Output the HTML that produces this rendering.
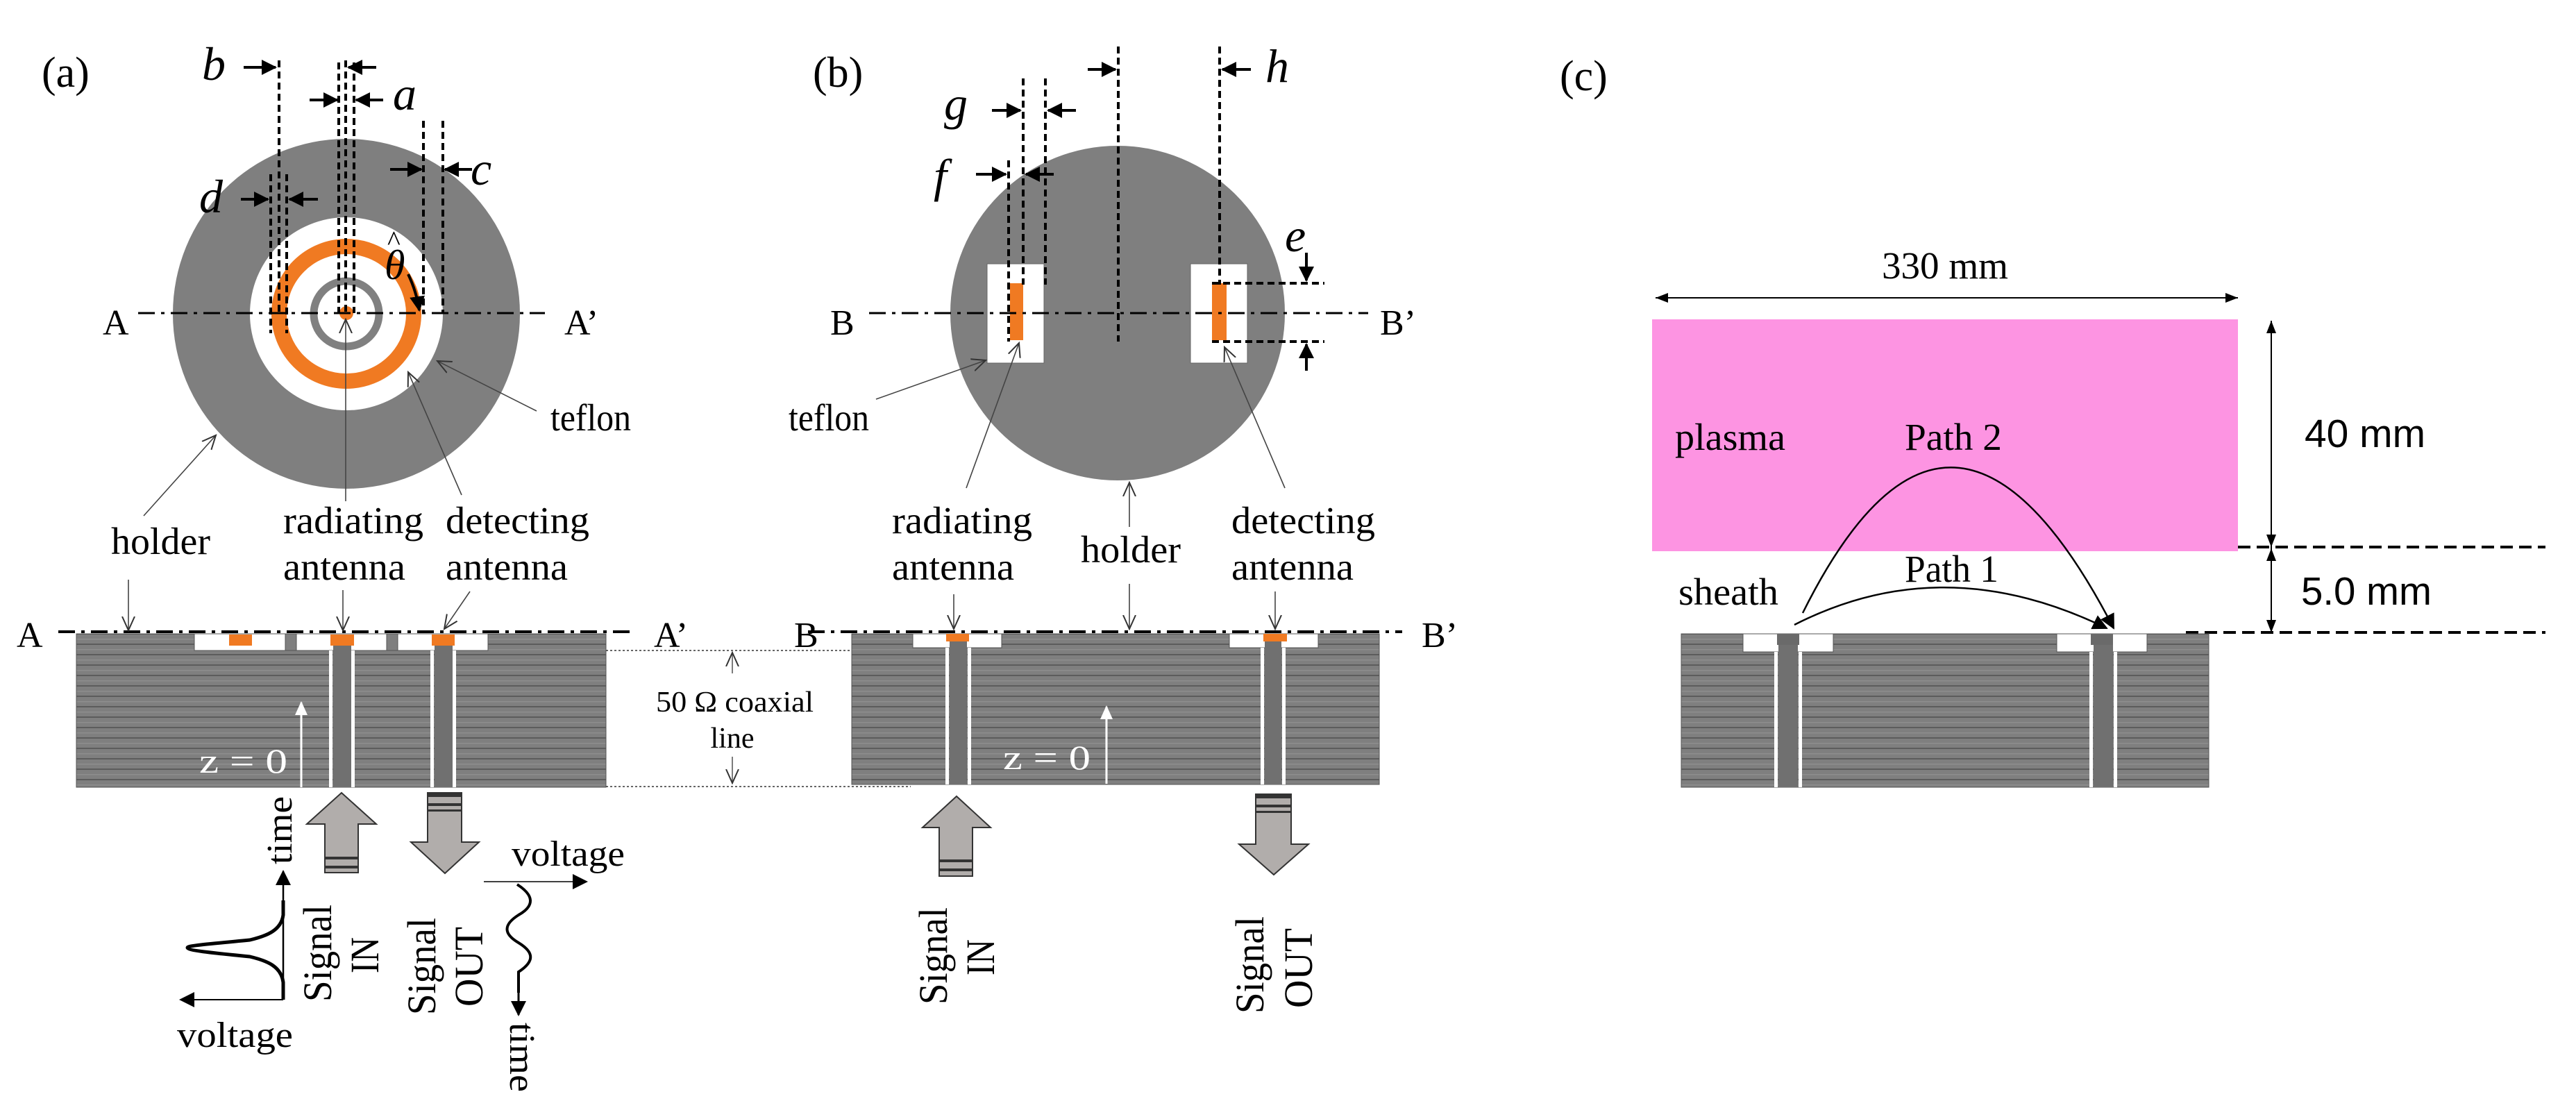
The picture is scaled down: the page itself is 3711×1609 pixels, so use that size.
<!DOCTYPE html>
<html><head><meta charset="utf-8"><style>html,body{margin:0;padding:0;background:#fff}svg{display:block}</style></head>
<body>
<svg xmlns="http://www.w3.org/2000/svg" width="3711" height="1609" viewBox="0 0 3711 1609" font-family="'Liberation Serif', serif">
<defs>
<pattern id="st" patternUnits="userSpaceOnUse" width="20" height="15">
<rect width="20" height="15" fill="#7f7f7f"/>
<rect y="12" width="20" height="2" fill="#5c5c5c"/>
<rect y="5" width="20" height="1.5" fill="#8e8e8e"/>
</pattern>
<marker id="ahb" markerWidth="22" markerHeight="22" refX="20" refY="11" orient="auto" markerUnits="userSpaceOnUse" viewBox="0 0 22 22"><path d="M0,0 L22,11 L0,22 z" fill="#000"/></marker>
<marker id="aho" markerWidth="22" markerHeight="22" refX="20" refY="11" orient="auto" markerUnits="userSpaceOnUse" viewBox="0 0 22 22"><path d="M0,2 L20,11 L0,20" fill="none" stroke="#333" stroke-width="2"/></marker>
<marker id="ahw" markerWidth="20" markerHeight="20" refX="18" refY="10" orient="auto" markerUnits="userSpaceOnUse" viewBox="0 0 20 20"><path d="M0,1 L20,10 L0,19 z" fill="#fff"/></marker>
</defs>

<!-- ===== PANEL (a) ===== -->
<text x="60" y="125" font-size="62">(a)</text>
<ellipse cx="499" cy="452" rx="250" ry="252" fill="#7f7f7f"/>
<circle cx="499" cy="452" r="139" fill="#fff"/>
<circle cx="499" cy="452" r="97" fill="none" stroke="#f07a22" stroke-width="22"/>
<circle cx="499" cy="452" r="47" fill="none" stroke="#808080" stroke-width="11"/>
<circle cx="499" cy="451" r="10" fill="#f07a22"/>
<line x1="199" y1="451" x2="785" y2="451" stroke="#000" stroke-width="3" stroke-dasharray="24 9 5 9"/>
<text x="148" y="482" font-size="52">A</text>
<text x="813" y="482" font-size="52">A’</text>
<g stroke="#000" stroke-width="4" stroke-dasharray="10 6" fill="none">
<line x1="402" y1="87" x2="402" y2="451"/>
<line x1="390" y1="251" x2="390" y2="480"/>
<line x1="413" y1="251" x2="413" y2="480"/>
<line x1="488" y1="90" x2="488" y2="451"/>
<line x1="498" y1="87" x2="498" y2="451"/>
<line x1="510" y1="90" x2="510" y2="451"/>
<line x1="610" y1="174" x2="610" y2="451"/>
<line x1="638" y1="174" x2="638" y2="451"/>
</g>
<g stroke="#000" stroke-width="4">
<line x1="351" y1="97" x2="397" y2="97" marker-end="url(#ahb)"/>
<line x1="347" y1="287" x2="386" y2="287" marker-end="url(#ahb)"/>
<line x1="458" y1="287" x2="417" y2="287" marker-end="url(#ahb)"/>
<line x1="542" y1="97" x2="502" y2="97" marker-end="url(#ahb)"/>
<line x1="446" y1="144" x2="486" y2="144" marker-end="url(#ahb)"/>
<line x1="552" y1="144" x2="513" y2="144" marker-end="url(#ahb)"/>
<line x1="562" y1="244" x2="607" y2="244" marker-end="url(#ahb)"/>
<line x1="680" y1="244" x2="641" y2="244" marker-end="url(#ahb)"/>
</g>
<g font-style="italic" font-size="68">
<text x="291" y="115">b</text>
<text x="287" y="306">d</text>
<text x="566" y="158">a</text>
<text x="678" y="266">c</text>
<text x="554" y="402" font-size="60">θ</text>
</g>
<text x="558" y="360" font-size="40">^</text>
<path d="M588,395 Q600,420 604,447" fill="none" stroke="#000" stroke-width="4" marker-end="url(#ahb)"/>
<g stroke="#444" stroke-width="1.6" fill="none">
<line x1="773" y1="592" x2="630" y2="520" marker-end="url(#aho)"/>
<line x1="207" y1="743" x2="311" y2="627" marker-end="url(#aho)"/>
<line x1="498" y1="722" x2="498" y2="460" marker-end="url(#aho)"/>
<line x1="665" y1="713" x2="588" y2="536" marker-end="url(#aho)"/>
</g>
<g font-size="55">
<text x="793" y="620" textLength="116" lengthAdjust="spacingAndGlyphs">teflon</text>
<text x="160" y="798" textLength="143" lengthAdjust="spacingAndGlyphs">holder</text>
<text x="408" y="768" textLength="202" lengthAdjust="spacingAndGlyphs">radiating</text>
<text x="408" y="835" textLength="176" lengthAdjust="spacingAndGlyphs">antenna</text>
<text x="642" y="768" textLength="207" lengthAdjust="spacingAndGlyphs">detecting</text>
<text x="642" y="835" textLength="176" lengthAdjust="spacingAndGlyphs">antenna</text>
</g>
<!-- cross section a -->
<rect x="110" y="913" width="763" height="221" fill="url(#st)" stroke="#555" stroke-width="1"/>
<rect x="280" y="913" width="131" height="24" fill="#fff" stroke="#555" stroke-width="1"/>
<rect x="427" y="913" width="130" height="24" fill="#fff" stroke="#555" stroke-width="1"/>
<rect x="573" y="913" width="130" height="24" fill="#fff" stroke="#555" stroke-width="1"/>
<rect x="411" y="913" width="16" height="24" fill="#7f7f7f" stroke="#555" stroke-width="1"/>
<rect x="557" y="913" width="16" height="24" fill="#7f7f7f" stroke="#555" stroke-width="1"/>
<rect x="330" y="914" width="33" height="16" fill="#f07a22"/>
<rect x="476" y="914" width="34" height="16" fill="#f07a22"/>
<rect x="622" y="914" width="33" height="16" fill="#f07a22"/>
<g fill="#fff"><rect x="474" y="937" width="5" height="197"/><rect x="506" y="937" width="5" height="197"/><rect x="620" y="937" width="5" height="197"/><rect x="652" y="937" width="5" height="197"/></g>
<rect x="480" y="930" width="26" height="204" fill="#707070"/>
<rect x="626" y="930" width="26" height="204" fill="#707070"/>
<line x1="84" y1="910" x2="909" y2="910" stroke="#000" stroke-width="4" stroke-dasharray="24 9 5 9"/>
<text x="24" y="932" font-size="52">A</text>
<text x="942" y="932" font-size="52">A’</text>
<g stroke="#444" stroke-width="1.6" fill="none">
<line x1="185" y1="835" x2="185" y2="908" marker-end="url(#aho)"/>
<line x1="494" y1="850" x2="494" y2="908" marker-end="url(#aho)"/>
<line x1="677" y1="852" x2="640" y2="906" marker-end="url(#aho)"/>
</g>
<g stroke="#333" stroke-width="1.5" stroke-dasharray="3 3">
<line x1="873" y1="937" x2="1312" y2="937"/><line x1="873" y1="1133" x2="1312" y2="1133"/>
</g>
<g stroke="#444" stroke-width="1.4" fill="none">
<line x1="1055" y1="970" x2="1055" y2="940" marker-end="url(#aho)"/>
<line x1="1055" y1="1090" x2="1055" y2="1128" marker-end="url(#aho)"/>
</g>
<text x="945" y="1025" font-size="42" textLength="227" lengthAdjust="spacingAndGlyphs">50 Ω coaxial</text>
<text x="1055" y="1077" font-size="42" text-anchor="middle">line</text>
<text x="287" y="1113" font-size="50" fill="#fff" textLength="127" lengthAdjust="spacingAndGlyphs">z = 0</text>
<line x1="434" y1="1134" x2="434" y2="1012" stroke="#fff" stroke-width="3" marker-end="url(#ahw)"/>
<!-- signal arrows a -->
<path d="M492,1142 L542,1187 L516,1187 L516,1257 L468,1257 L468,1187 L442,1187 z" fill="#b1adab" stroke="#333" stroke-width="2"/>
<rect x="468" y="1234" width="48" height="4" fill="#333"/><rect x="468" y="1247" width="48" height="4" fill="#333"/>
<path d="M616,1142 L665,1142 L665,1213 L690,1213 L641,1258 L592,1213 L616,1213 z" fill="#b1adab" stroke="#333" stroke-width="2"/>
<rect x="616" y="1143" width="49" height="5" fill="#333"/><rect x="616" y="1157" width="49" height="4" fill="#333"/><rect x="616" y="1166" width="49" height="3" fill="#333"/>
<text transform="translate(420,1245) rotate(-90)" font-size="52" textLength="98" lengthAdjust="spacingAndGlyphs">time</text>
<line x1="408" y1="1440" x2="408" y2="1255" stroke="#000" stroke-width="2.5" marker-end="url(#ahb)"/>
<line x1="408" y1="1440" x2="260" y2="1440" stroke="#000" stroke-width="2" marker-end="url(#ahb)"/>
<path d="M408,1297 L408,1318 C405,1340 385,1348 360,1354 C300,1360 270,1362 270,1365 C270,1369 300,1372 360,1378 C385,1384 405,1392 408,1415 L408,1440" fill="none" stroke="#000" stroke-width="5"/>
<text x="255" y="1508" font-size="52" textLength="167" lengthAdjust="spacingAndGlyphs">voltage</text>
<g font-size="58">
<text transform="translate(477,1443) rotate(-90)" textLength="140" lengthAdjust="spacingAndGlyphs">Signal</text>
<text transform="translate(545,1402) rotate(-90)" textLength="52" lengthAdjust="spacingAndGlyphs">IN</text>
<text transform="translate(627,1462) rotate(-90)" textLength="140" lengthAdjust="spacingAndGlyphs">Signal</text>
<text transform="translate(695,1450) rotate(-90)" textLength="115" lengthAdjust="spacingAndGlyphs">OUT</text>
</g>
<line x1="697" y1="1270" x2="845" y2="1270" stroke="#000" stroke-width="1.5" marker-end="url(#ahb)"/>
<text x="737" y="1247" font-size="52" textLength="163" lengthAdjust="spacingAndGlyphs">voltage</text>
<path d="M745,1274 C770,1290 770,1305 747,1318 C725,1332 725,1345 747,1358 C770,1372 770,1385 747,1400 L747,1430" fill="none" stroke="#000" stroke-width="4"/>
<line x1="747" y1="1425" x2="747" y2="1462" stroke="#000" stroke-width="3" marker-end="url(#ahb)"/>
<text transform="translate(735,1473) rotate(90)" font-size="52" textLength="100" lengthAdjust="spacingAndGlyphs">time</text>

<!-- ===== PANEL (b) ===== -->
<text x="1171" y="125" font-size="62">(b)</text>
<ellipse cx="1610" cy="451" rx="241" ry="241" fill="#7f7f7f"/>
<rect x="1422" y="380" width="82" height="143" fill="#fff" stroke="#666" stroke-width="1"/>
<rect x="1715" y="380" width="82" height="143" fill="#fff" stroke="#666" stroke-width="1"/>
<rect x="1455" y="408" width="19" height="82" fill="#f07a22"/>
<rect x="1746" y="408" width="21" height="82" fill="#f07a22"/>
<line x1="1252" y1="451" x2="1971" y2="451" stroke="#000" stroke-width="3" stroke-dasharray="24 9 5 9"/>
<text x="1196" y="482" font-size="52">B</text>
<text x="1988" y="482" font-size="52">B’</text>
<g stroke="#000" stroke-width="4" stroke-dasharray="10 6" fill="none">
<line x1="1611" y1="67" x2="1611" y2="492"/>
<line x1="1757" y1="67" x2="1757" y2="410"/>
<line x1="1474" y1="113" x2="1474" y2="410"/>
<line x1="1506" y1="113" x2="1506" y2="410"/>
<line x1="1453" y1="231" x2="1453" y2="492"/>
<line x1="1746" y1="408" x2="1908" y2="408"/>
<line x1="1746" y1="492" x2="1908" y2="492"/>
</g>
<g stroke="#000" stroke-width="4">
<line x1="1567" y1="100" x2="1607" y2="100" marker-end="url(#ahb)"/>
<line x1="1802" y1="100" x2="1761" y2="100" marker-end="url(#ahb)"/>
<line x1="1429" y1="159" x2="1470" y2="159" marker-end="url(#ahb)"/>
<line x1="1550" y1="159" x2="1510" y2="159" marker-end="url(#ahb)"/>
<line x1="1406" y1="251" x2="1449" y2="251" marker-end="url(#ahb)"/>
<line x1="1518" y1="251" x2="1478" y2="251" marker-end="url(#ahb)"/>
<line x1="1882" y1="364" x2="1882" y2="404" marker-end="url(#ahb)"/>
<line x1="1882" y1="534" x2="1882" y2="496" marker-end="url(#ahb)"/>
</g>
<g font-style="italic" font-size="68">
<text x="1823" y="118">h</text>
<text x="1360" y="172">g</text>
<text x="1345" y="276">f</text>
<text x="1851" y="362">e</text>
</g>
<g stroke="#444" stroke-width="1.6" fill="none">
<line x1="1262" y1="575" x2="1420" y2="519" marker-end="url(#aho)"/>
<line x1="1392" y1="703" x2="1468" y2="494" marker-end="url(#aho)"/>
<line x1="1627" y1="759" x2="1627" y2="695" marker-end="url(#aho)"/>
<line x1="1851" y1="703" x2="1764" y2="500" marker-end="url(#aho)"/>
</g>
<g font-size="55">
<text x="1136" y="620" textLength="116" lengthAdjust="spacingAndGlyphs">teflon</text>
<text x="1285" y="768" textLength="202" lengthAdjust="spacingAndGlyphs">radiating</text>
<text x="1285" y="835" textLength="176" lengthAdjust="spacingAndGlyphs">antenna</text>
<text x="1557" y="810" textLength="144" lengthAdjust="spacingAndGlyphs">holder</text>
<text x="1774" y="768" textLength="207" lengthAdjust="spacingAndGlyphs">detecting</text>
<text x="1774" y="835" textLength="176" lengthAdjust="spacingAndGlyphs">antenna</text>
</g>
<rect x="1227" y="913" width="760" height="217" fill="url(#st)" stroke="#555" stroke-width="1"/>
<rect x="1315" y="913" width="128" height="20" fill="#fff" stroke="#555" stroke-width="1"/>
<rect x="1771" y="913" width="128" height="20" fill="#fff" stroke="#555" stroke-width="1"/>
<rect x="1363" y="913" width="33" height="11" fill="#f07a22"/>
<rect x="1820" y="913" width="34" height="11" fill="#f07a22"/>
<g fill="#fff"><rect x="1362" y="933" width="5" height="197"/><rect x="1394" y="933" width="5" height="197"/><rect x="1816" y="933" width="5" height="197"/><rect x="1847" y="933" width="5" height="197"/></g>
<rect x="1368" y="924" width="25" height="206" fill="#707070"/>
<rect x="1822" y="924" width="24" height="206" fill="#707070"/>
<line x1="1164" y1="910" x2="2020" y2="910" stroke="#000" stroke-width="4" stroke-dasharray="24 9 5 9"/>
<text x="1144" y="932" font-size="52">B</text>
<text x="2048" y="932" font-size="52">B’</text>
<g stroke="#444" stroke-width="1.6" fill="none">
<line x1="1374" y1="856" x2="1374" y2="906" marker-end="url(#aho)"/>
<line x1="1627" y1="841" x2="1627" y2="906" marker-end="url(#aho)"/>
<line x1="1837" y1="852" x2="1837" y2="906" marker-end="url(#aho)"/>
</g>
<text x="1445" y="1108" font-size="50" fill="#fff" textLength="126" lengthAdjust="spacingAndGlyphs">z = 0</text>
<line x1="1594" y1="1129" x2="1594" y2="1018" stroke="#fff" stroke-width="3" marker-end="url(#ahw)"/>
<path d="M1378,1147 L1427,1192 L1401,1192 L1401,1262 L1353,1262 L1353,1192 L1329,1192 z" fill="#b1adab" stroke="#333" stroke-width="2"/>
<rect x="1353" y="1238" width="48" height="4" fill="#333"/><rect x="1353" y="1251" width="48" height="4" fill="#333"/>
<path d="M1809,1144 L1860,1144 L1860,1216 L1885,1216 L1835,1260 L1785,1216 L1809,1216 z" fill="#b1adab" stroke="#333" stroke-width="2"/>
<rect x="1809" y="1145" width="51" height="5" fill="#333"/><rect x="1809" y="1159" width="51" height="4" fill="#333"/><rect x="1809" y="1168" width="51" height="3" fill="#333"/>
<g font-size="58">
<text transform="translate(1364,1447) rotate(-90)" textLength="140" lengthAdjust="spacingAndGlyphs">Signal</text>
<text transform="translate(1432,1405) rotate(-90)" textLength="52" lengthAdjust="spacingAndGlyphs">IN</text>
<text transform="translate(1820,1460) rotate(-90)" textLength="140" lengthAdjust="spacingAndGlyphs">Signal</text>
<text transform="translate(1890,1452) rotate(-90)" textLength="115" lengthAdjust="spacingAndGlyphs">OUT</text>
</g>

<!-- ===== PANEL (c) ===== -->
<text x="2247" y="130" font-size="62">(c)</text>
<text x="2711" y="401" font-size="55" textLength="182" lengthAdjust="spacingAndGlyphs">330 mm</text>
<line x1="2385" y1="429" x2="3224" y2="429" stroke="#000" stroke-width="2"/>
<path d="M2385,429 l18,-7 v14 z M3224,429 l-18,-7 v14 z" fill="#000"/>
<rect x="2380" y="460" width="844" height="334" fill="#fd94e2"/>
<text x="2413" y="648" font-size="55" textLength="159" lengthAdjust="spacingAndGlyphs">plasma</text>
<text x="2744" y="648" font-size="55" textLength="140" lengthAdjust="spacingAndGlyphs">Path 2</text>
<text x="2744" y="838" font-size="55" textLength="135" lengthAdjust="spacingAndGlyphs">Path 1</text>
<text x="2418" y="871" font-size="55" textLength="144" lengthAdjust="spacingAndGlyphs">sheath</text>
<path d="M2597,883 Q2811,453 3045,905" fill="none" stroke="#000" stroke-width="2.5" marker-end="url(#ahb)"/>
<path d="M2585,900 Q2800,790 3035,905" fill="none" stroke="#000" stroke-width="2.5" marker-end="url(#ahb)"/>
<line x1="3272" y1="462" x2="3272" y2="788" stroke="#000" stroke-width="2"/>
<line x1="3272" y1="788" x2="3272" y2="911" stroke="#000" stroke-width="2"/>
<path d="M3272,462 l-7,18 h14 z M3272,788 l-7,-18 h14 z M3272,790 l-7,18 h14 z M3272,911 l-7,-18 h14 z" fill="#000"/>
<text x="3320" y="644" font-size="57" font-family="'Liberation Sans', sans-serif" textLength="174" lengthAdjust="spacingAndGlyphs">40 mm</text>
<text x="3315" y="871" font-size="57" font-family="'Liberation Sans', sans-serif" textLength="188" lengthAdjust="spacingAndGlyphs">5.0 mm</text>
<g stroke="#000" stroke-width="4" stroke-dasharray="18 9">
<line x1="3224" y1="788" x2="3667" y2="788"/>
<line x1="3149" y1="911" x2="3667" y2="911"/>
</g>
<rect x="2422" y="913" width="760" height="221" fill="url(#st)" stroke="#555" stroke-width="1"/>
<rect x="2511" y="913" width="130" height="26" fill="#fff" stroke="#555" stroke-width="1"/>
<rect x="2963" y="913" width="130" height="26" fill="#fff" stroke="#555" stroke-width="1"/>
<rect x="2560" y="913" width="32" height="16" fill="#6a6a6a"/>
<rect x="3012" y="913" width="32" height="16" fill="#6a6a6a"/>
<g fill="#fff"><rect x="2556" y="939" width="5" height="195"/><rect x="2591" y="939" width="5" height="195"/><rect x="3010" y="939" width="5" height="195"/><rect x="3045" y="939" width="5" height="195"/></g>
<rect x="2562" y="929" width="28" height="205" fill="#707070"/>
<rect x="3016" y="929" width="28" height="205" fill="#707070"/>
</svg>
</body></html>
